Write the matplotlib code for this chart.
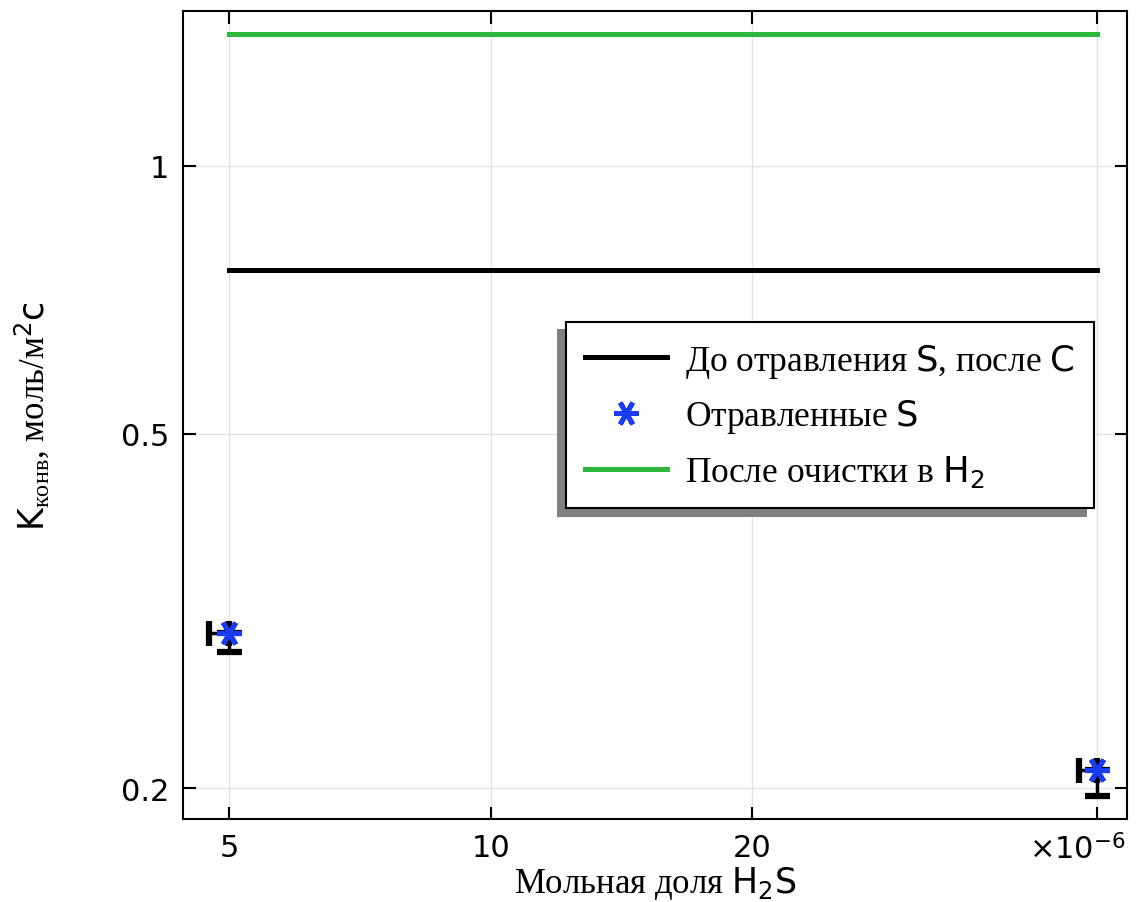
import numpy as np
import matplotlib
matplotlib.use("Agg")
import matplotlib.pyplot as plt
import matplotlib.transforms as mtransforms
from matplotlib.ticker import NullLocator

# ---------- data ----------
line_x = [5e-6, 50e-6]
before_poison = [0.763, 0.763]     # До отравления S, после C
after_clean = [1.405, 1.405]       # После очистки в H2

pts_x = [5e-6, 50e-6]
pts_y = [0.299, 0.2095]
xerr_low = [0.27e-6, 2.35e-6]
yerr_low = [0.0143, 0.0137]
yerr_high = [0.006, 0.0066]

xticks = [5e-6, 10e-6, 20e-6, 50e-6]
xtick_labels = ["5", "10", "20", r"×10$^{\mathsf{-6}}$"]
yticks = [0.2, 0.5, 1.0]
ytick_labels = ["0.2", "0.5", "1"]

# ---------- style ----------
plt.rcParams["font.family"] = "DejaVu Sans"
plt.rcParams["mathtext.fontset"] = "custom"
plt.rcParams["mathtext.rm"] = "Liberation Serif"
plt.rcParams["mathtext.it"] = "Liberation Serif:italic"
plt.rcParams["mathtext.sf"] = "DejaVu Sans"
serif = ["Liberation Serif", "DejaVu Serif"]

fig = plt.figure(figsize=(11.41, 9.03), dpi=100)
ax = fig.add_axes([0.1604, 0.0919, 0.8273, 0.8948])

ax.set_xscale("log")
ax.set_yscale("log")

l1, = ax.plot(line_x, before_poison, color="black", lw=3.6,
              label=r"До отравления $\mathsf{S}$, после $\mathsf{C}$")

# lower / left error with caps, upper without
ax.errorbar(pts_x, pts_y,
            xerr=[xerr_low, [0, 0]],
            yerr=[yerr_low, [0, 0]],
            fmt="none", ecolor="black", elinewidth=2.5,
            capsize=9, capthick=4.5, zorder=3)
ax.errorbar(pts_x, pts_y, yerr=[[0, 0], yerr_high],
            fmt="none", ecolor="black", elinewidth=3.5,
            capsize=0, zorder=3)
pts, = ax.plot(pts_x, pts_y, linestyle="none", marker=(6, 2, 90),
               markersize=18, markeredgewidth=3.5, color="#1a3cf5",
               zorder=4, label="Отравленные $\\mathsf{S}$")

l2, = ax.plot(line_x, after_clean, color="#2db83d", lw=3.6,
              label=r"После очистки в $\mathsf{H_2}$")

ax.set_xlim(4.42e-6, 54.1e-6)
ax.set_ylim(0.1846, 1.493)

ax.set_xticks(xticks)
ax.set_xticklabels(xtick_labels)
ax.set_yticks(yticks)
ax.set_yticklabels(ytick_labels)
ax.xaxis.set_minor_locator(NullLocator())
ax.yaxis.set_minor_locator(NullLocator())

ax.tick_params(which="major", direction="in", length=9, width=1.5,
               labelsize=22, top=True, right=True, pad=10)
ax.grid(True, color="#e3e3e3", lw=1)
ax.set_axisbelow(True)
for s in ax.spines.values():
    s.set_linewidth(1.5)

# exponent label sits a little left of its tick, like the original
exp_lbl = ax.get_xticklabels()[-1]
exp_lbl.set_transform(exp_lbl.get_transform() +
                      mtransforms.ScaledTranslation(-0.2, 0, fig.dpi_scale_trans))

ax.set_xlabel(r"Мольная доля $\mathsf{H_2S}$", fontsize=25,
              family=serif, labelpad=0)
ax.set_ylabel(r"$\mathsf{K}_{\mathrm{конв}}$, моль/м$^{\mathsf{2}}\mathsf{c}$",
              fontsize=25, family=serif, labelpad=50)

leg = ax.legend(handles=[l1, pts, l2], loc="upper left",
                bbox_to_anchor=(0.4057, 0.615), borderaxespad=0,
                prop={"family": serif, "size": 25.5},
                frameon=True, fancybox=False, edgecolor="black",
                framealpha=1, handlelength=2.3, borderpad=0.55,
                labelspacing=0.5, handletextpad=0.5,
                shadow={"ox": -5.5, "oy": -5.5, "color": "0.5", "alpha": 1})
leg.get_frame().set_linewidth(1.5)

fig.savefig("out.png", dpi=100)
